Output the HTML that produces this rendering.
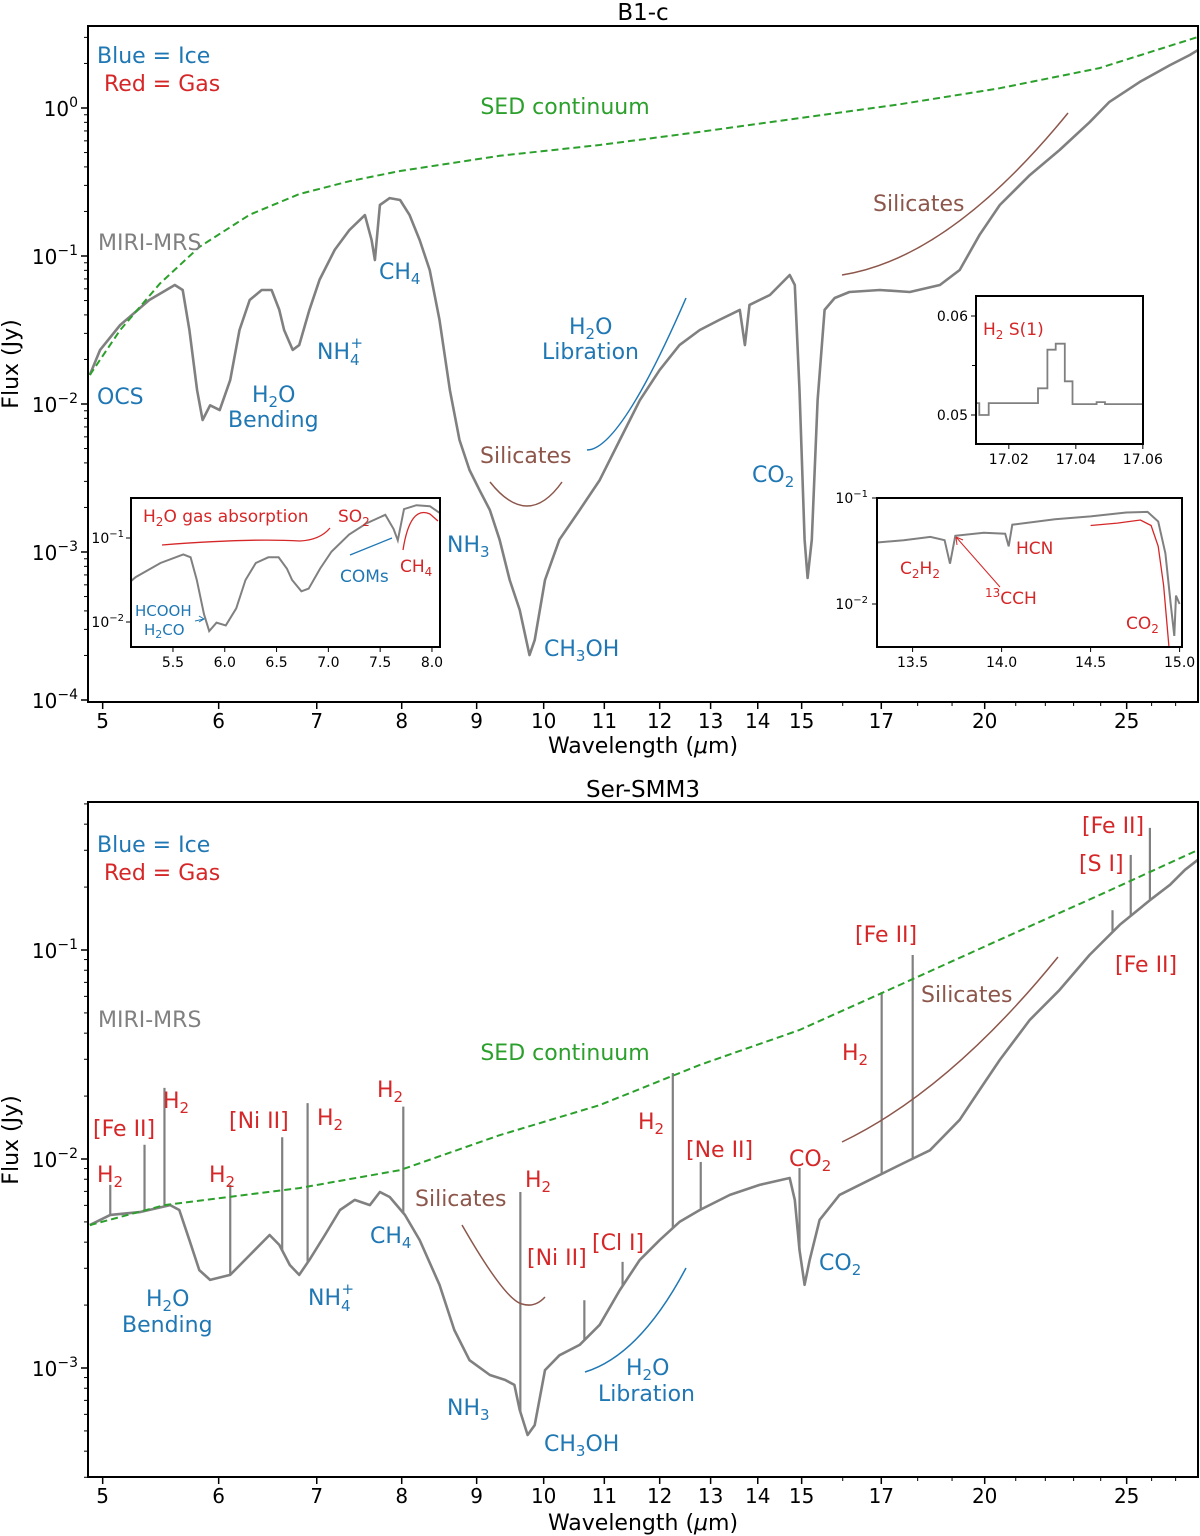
<!DOCTYPE html>
<html><head><meta charset="utf-8">
<style>
html,body{margin:0;padding:0;background:#fff;}
svg{display:block;font-family:"DejaVu Sans","Liberation Sans",sans-serif;}
</style></head>
<body>
<svg id="fig" width="1200" height="1536" viewBox="0 0 1200 1536" xmlns="http://www.w3.org/2000/svg">
<g id="layer"></g>

<text x="643" y="20" font-size="23" text-anchor="middle">B1-c</text>
<text x="643" y="797" font-size="23" text-anchor="middle">Ser-SMM3</text>
<text x="643" y="753" font-size="22" text-anchor="middle">Wavelength (<tspan font-style="italic">μ</tspan>m)</text>
<text x="643" y="1530" font-size="22" text-anchor="middle">Wavelength (<tspan font-style="italic">μ</tspan>m)</text>
<text transform="translate(18,364) rotate(-90)" font-size="22" text-anchor="middle">Flux (Jy)</text>
<text transform="translate(18,1140) rotate(-90)" font-size="22" text-anchor="middle">Flux (Jy)</text>

<g font-size="22">
<text x="97" y="63" fill="#1f77b4">Blue = Ice</text>
<text x="104" y="91" fill="#d62728">Red = Gas</text>
<text x="565" y="114" fill="#2ca02c" text-anchor="middle">SED continuum</text>
<text x="98" y="250" fill="#808080">MIRI-MRS</text>
<text x="379" y="279" fill="#1f77b4">CH<tspan font-size="15" dy="5">4</tspan></text>
<text x="317" y="359" fill="#1f77b4">NH<tspan font-size="15" dy="6">4</tspan><tspan font-size="15" dx="-9" dy="-17">+</tspan></text>
<text x="97" y="404" fill="#1f77b4">OCS</text>
<text x="252" y="402" fill="#1f77b4">H<tspan font-size="15" dy="5">2</tspan><tspan dy="-5">O</tspan></text>
<text x="228" y="427" fill="#1f77b4">Bending</text>
<text x="569" y="334" fill="#1f77b4">H<tspan font-size="15" dy="5">2</tspan><tspan dy="-5">O</tspan></text>
<text x="542" y="359" fill="#1f77b4">Libration</text>
<text x="480" y="463" fill="#8c564b">Silicates</text>
<text x="873" y="211" fill="#8c564b">Silicates</text>
<text x="752" y="482" fill="#1f77b4">CO<tspan font-size="15" dy="5">2</tspan></text>
<text x="447" y="552" fill="#1f77b4">NH<tspan font-size="15" dy="5">3</tspan></text>
<text x="544" y="656" fill="#1f77b4">CH<tspan font-size="15" dy="5">3</tspan><tspan dy="-5">OH</tspan></text>
</g>
<g fill="none" stroke-width="1.5">
<path d="M490,482 Q528,530 562,482" stroke="#8c564b"/>
<path d="M587,450 Q620,450 686,298" stroke="#1f77b4"/>
<path d="M842,275 Q950,258 1068,113" stroke="#8c564b"/>
<path d="M462,1225 Q505,1300 522,1304 Q535,1308 545,1297" stroke="#8c564b"/>
<path d="M585,1372 Q640,1355 686,1268" stroke="#1f77b4"/>
<path d="M842,1142 Q950,1090 1058,957" stroke="#8c564b"/>
</g>

<g font-size="22">
<text x="97" y="852" fill="#1f77b4">Blue = Ice</text>
<text x="104" y="880" fill="#d62728">Red = Gas</text>
<text x="98" y="1027" fill="#808080">MIRI-MRS</text>
<text x="565" y="1060" fill="#2ca02c" text-anchor="middle">SED continuum</text>
<g fill="#d62728">
<text x="97" y="1182">H<tspan font-size="15" dy="5">2</tspan></text>
<text x="93" y="1136">[Fe II]</text>
<text x="163" y="1108">H<tspan font-size="15" dy="5">2</tspan></text>
<text x="209" y="1182">H<tspan font-size="15" dy="5">2</tspan></text>
<text x="229" y="1128">[Ni II]</text>
<text x="317" y="1125">H<tspan font-size="15" dy="5">2</tspan></text>
<text x="377" y="1097">H<tspan font-size="15" dy="5">2</tspan></text>
<text x="525" y="1187">H<tspan font-size="15" dy="5">2</tspan></text>
<text x="527" y="1265">[Ni II]</text>
<text x="592" y="1250">[Cl I]</text>
<text x="638" y="1129">H<tspan font-size="15" dy="5">2</tspan></text>
<text x="686" y="1157">[Ne II]</text>
<text x="789" y="1166">CO<tspan font-size="15" dy="5">2</tspan></text>
<text x="842" y="1060">H<tspan font-size="15" dy="5">2</tspan></text>
<text x="855" y="942">[Fe II]</text>
<text x="1082" y="833">[Fe II]</text>
<text x="1079" y="871">[S I]</text>
<text x="1115" y="972">[Fe II]</text>
</g>
<text x="415" y="1206" fill="#8c564b">Silicates</text>
<text x="921" y="1002" fill="#8c564b">Silicates</text>
<g fill="#1f77b4">
<text x="819" y="1270">CO<tspan font-size="15" dy="5">2</tspan></text>
<text x="626" y="1375">H<tspan font-size="15" dy="5">2</tspan><tspan dy="-5">O</tspan></text>
<text x="598" y="1401">Libration</text>
<text x="447" y="1415">NH<tspan font-size="15" dy="5">3</tspan></text>
<text x="544" y="1451">CH<tspan font-size="15" dy="5">3</tspan><tspan dy="-5">OH</tspan></text>
<text x="370" y="1243">CH<tspan font-size="15" dy="5">4</tspan></text>
<text x="308" y="1305">NH<tspan font-size="15" dy="6">4</tspan><tspan font-size="15" dx="-9" dy="-17">+</tspan></text>
<text x="146" y="1306">H<tspan font-size="15" dy="5">2</tspan><tspan dy="-5">O</tspan></text>
<text x="122" y="1332">Bending</text>
</g>
</g>
</svg>
<script>
const topWave=[4.90,4.98,5.14,5.38,5.60,5.67,5.73,5.80,5.85,5.92,6.01,6.11,6.20,6.30,6.42,6.52,6.60,6.65,6.74,6.81,6.92,7.03,7.20,7.37,7.55,7.63,7.67,7.73,7.85,7.98,8.10,8.23,8.36,8.49,8.63,8.76,8.90,9.04,9.19,9.33,9.48,9.63,9.78,9.86,10.02,10.25,10.58,10.92,11.27,11.63,12.00,12.38,12.78,13.18,13.61,13.72,13.82,14.27,14.72,14.84,14.95,15.07,15.14,15.24,15.38,15.55,15.80,16.17,16.96,17.78,18.64,19.23,19.84,20.48,21.47,22.50,23.58,24.33,25.52,26.76,27.61,27.96];
const topFlux=[0.0157,0.0232,0.0342,0.0504,0.0637,0.0589,0.0316,0.0124,0.0078,0.0098,0.0091,0.0145,0.0316,0.0504,0.0589,0.0589,0.0432,0.0316,0.0232,0.0250,0.0432,0.0689,0.110,0.150,0.189,0.128,0.094,0.221,0.246,0.239,0.189,0.128,0.0804,0.0370,0.0124,0.00571,0.00358,0.00262,0.00192,0.00121,0.000647,0.000406,0.000201,0.000254,0.000647,0.00121,0.00192,0.00306,0.00571,0.0106,0.0170,0.0250,0.0316,0.0370,0.0432,0.0250,0.0467,0.0545,0.0744,0.0637,0.0124,0.00121,0.000667,0.00121,0.0106,0.0432,0.0520,0.0571,0.0589,0.0571,0.0637,0.0804,0.139,0.221,0.352,0.520,0.800,1.10,1.50,1.95,2.28,2.46];
const topSedWave=[4.90,5.14,5.47,5.82,6.30,6.81,7.37,7.98,9.33,10.92,12.78,14.95,17.50,20.48,23.95,27.96];
const topSedFlux=[0.0157,0.0316,0.0650,0.115,0.190,0.262,0.320,0.375,0.475,0.562,0.689,0.855,1.06,1.36,1.86,3.02];

const botWave=[4.90,5.06,5.30,5.56,5.64,5.73,5.82,5.92,6.11,6.30,6.50,6.60,6.71,6.81,6.92,7.09,7.26,7.43,7.61,7.73,7.85,8.04,8.23,8.49,8.69,8.90,9.19,9.41,9.55,9.63,9.75,9.86,10.02,10.25,10.58,10.92,11.27,11.63,12.00,12.38,12.78,13.40,14.04,14.72,14.84,14.95,15.07,15.19,15.43,15.92,16.69,17.50,18.35,19.23,19.84,20.48,21.47,22.50,23.58,24.73,25.93,26.76,27.40,27.96];
const botFlux=[0.00483,0.00540,0.00557,0.00602,0.00570,0.00409,0.00294,0.00264,0.00279,0.00347,0.00433,0.00388,0.00311,0.00279,0.00329,0.00433,0.00570,0.00637,0.00602,0.00695,0.00658,0.00540,0.00409,0.00250,0.00152,0.00109,0.000926,0.000877,0.000830,0.000630,0.000478,0.000533,0.000977,0.00115,0.00129,0.00161,0.00236,0.00329,0.00409,0.00500,0.00570,0.00673,0.00752,0.00811,0.00637,0.00367,0.00250,0.00329,0.00511,0.00673,0.00794,0.00936,0.0110,0.0154,0.0214,0.0298,0.0463,0.0644,0.0946,0.132,0.173,0.205,0.242,0.270];
const lineWave=[5.06,5.34,5.51,6.11,6.63,6.90,8.02,9.64,10.66,11.32,12.25,12.80,14.95,17.01,17.86,24.45,25.16,25.93];
const linePeak=[0.00752,0.0117,0.0219,0.00752,0.0127,0.0185,0.0178,0.00695,0.00211,0.00322,0.0258,0.00968,0.00906,0.0630,0.0946,0.155,0.285,0.384];
const botSedWave=[4.90,5.51,6.81,7.98,9.33,10.92,12.78,14.95,17.01,20.48,23.95,27.96];
const botSedFlux=[0.00483,0.00602,0.00726,0.00885,0.0130,0.0181,0.0282,0.0414,0.0622,0.112,0.183,0.301];

const co2Wave=[13.30,13.45,13.60,13.68,13.71,13.74,13.90,14.02,14.04,14.06,14.30,14.50,14.70,14.82,14.88,14.92,14.95,14.97,14.98,15.00];
const co2Flux=[0.038,0.040,0.043,0.040,0.024,0.044,0.047,0.046,0.035,0.056,0.063,0.067,0.073,0.074,0.060,0.030,0.010,0.005,0.012,0.010];
const co2ModelWave=[14.50,14.65,14.78,14.84,14.88,14.91,14.94];
const co2ModelFlux=[0.055,0.058,0.062,0.055,0.035,0.015,0.004];
const h2Edges=[17.0100,17.0112,17.0140,17.0287,17.0315,17.0340,17.0367,17.0390,17.0462,17.0487,17.0600];
const h2Vals=[0.0512,0.0500,0.0512,0.0527,0.0566,0.0572,0.0534,0.0511,0.0513,0.0511];
const xTickVals=[5,6,7,8,9,10,11,12,13,14,15,17,20,25];
const xMinorVals=[16,18,19,21,22,23,24,26,27];
const leftInsetTicks=[5.5,6.0,6.5,7.0,7.5,8.0];
const rightInsetTicks=[13.5,14.0,14.5,15.0];
const h2Ticks=[17.02,17.04,17.06];

const NS="http://www.w3.org/2000/svg";
const layer=document.getElementById('layer');
function mk(tag,attrs,parent){const e=document.createElementNS(NS,tag);for(const k in attrs)e.setAttribute(k,attrs[k]);(parent||layer).appendChild(e);return e;}
const L=Math.log10;
const X0=L(4.886);
function xMain(w){return 88+(L(w)-X0)*1465;}
function yTop(f){return 108-L(f)*148;}
function yBot(f){return 950-(L(f)+1)*209;}
function poly(ws,fs,xf,yf){return ws.map((w,i)=>xf(w).toFixed(1)+','+yf(fs[i]).toFixed(1)).join(' ');}
function interp(ws,fs,w){for(let i=0;i<ws.length-1;i++){if(w>=ws[i]&&w<=ws[i+1]){const t=(L(w)-L(ws[i]))/(L(ws[i+1])-L(ws[i]));return Math.pow(10,L(fs[i])+t*(L(fs[i+1])-L(fs[i])));}}return fs[fs.length-1];}

function panel(top,bottom,yf,decMin,decMax,name){
  const g=mk('g',{});
  
  
  const cp=mk('clipPath',{id:'clip-'+name},g);
  mk('rect',{x:88,y:top,width:1110,height:bottom-top},cp);
  xTickVals.forEach(v=>{const x=xMain(v);
    const t=mk('line',{x1:x,x2:x,y1:bottom,y2:bottom+7,stroke:'#000','stroke-width':1.5},g);
    
    
    const tx=mk('text',{x:x,y:bottom+26,'font-size':20,'text-anchor':'middle'},g);tx.textContent=v;
    
    
  });
  xMinorVals.forEach(v=>{const x=xMain(v);mk('line',{x1:x,x2:x,y1:bottom,y2:bottom+4,stroke:'#000','stroke-width':1},g);});
  for(let d=decMin;d<=decMax;d++){
    for(let m=1;m<10;m++){const f=m*Math.pow(10,d);const y=yf(f);if(y<top||y>bottom+1)continue;
      mk('line',{x1:88,x2:88-(m==1?7:4),y1:y,y2:y,stroke:'#000','stroke-width':m==1?1.5:1},g);
      if(m==1){const tx=mk('text',{x:78,y:y+8,'font-size':20,'text-anchor':'end'},g);
        
        
        tx.innerHTML='10<tspan font-size="14" dy="-9">'+(d<0?'−'+(-d):d)+'</tspan>';}
    }
  }
  return g;
}
const gt=panel(26,702,yTop,-4,0,'top');
const topSed=mk('polyline',{points:poly(topSedWave,topSedFlux,xMain,yTop),fill:'none',stroke:'#2ca02c','stroke-width':2,'stroke-dasharray':'7,4','clip-path':'url(#clip-top)'});


const topSpec=mk('polyline',{points:poly(topWave,topFlux,xMain,yTop),fill:'none',stroke:'#808080','stroke-width':2.6,'stroke-linejoin':'round','clip-path':'url(#clip-top)'});


layer.appendChild(topSed);
mk('rect',{x:88,y:26,width:1110,height:676,fill:'none',stroke:'#000','stroke-width':2});

const gb=panel(802,1477,yBot,-4,0,'bot');
const botSpec=mk('polyline',{points:poly(botWave,botFlux,xMain,yBot),fill:'none',stroke:'#808080','stroke-width':2.6,'stroke-linejoin':'round','clip-path':'url(#clip-bot)'});


lineWave.forEach((w,i)=>{const x=xMain(w);const b=interp(botWave,botFlux,w);
  const l=mk('line',{x1:x,x2:x,y1:yBot(b),y2:yBot(linePeak[i]),stroke:'#808080','stroke-width':2.2});
  
  
});
const botSed=mk('polyline',{points:poly(botSedWave,botSedFlux,xMain,yBot),fill:'none',stroke:'#2ca02c','stroke-width':2,'stroke-dasharray':'7,4','clip-path':'url(#clip-bot)'});


mk('rect',{x:88,y:802,width:1110,height:675,fill:'none',stroke:'#000','stroke-width':2});

function inset(name,x0,y0,w,h){const g=mk('g',{});
  mk('rect',{x:x0,y:y0,width:w,height:h,fill:'#fff'},g);
  const cp=mk('clipPath',{id:'clip-'+name},g);mk('rect',{x:x0,y:y0,width:w,height:h},cp);return g;}
const gl=inset('inset-left',131,498,309,149);
function xL(w){return 131+(w-5.095)*103.6;}
function yL(f){return 538-(L(f)+1)*84;}
const nL=topWave.filter(w=>w<8.2).length;
mk('polyline',{points:poly(topWave.slice(0,nL),topFlux.slice(0,nL),xL,yL),fill:'none',stroke:'#808080','stroke-width':2,'clip-path':'url(#clip-inset-left)'},gl);
mk('path',{d:'M162,545 Q250,538 300,541 Q320,540 330,528',fill:'none',stroke:'#d62728','stroke-width':1.3},gl);
mk('path',{d:'M350,555 L392,538',fill:'none',stroke:'#1f77b4','stroke-width':1.3},gl);
mk('path',{d:'M403,550 Q410,505 430,514 L438,521',fill:'none',stroke:'#d62728','stroke-width':1.3},gl);
mk('path',{d:'M195,621 L204,619 M199,616 L204,619 L199,622',fill:'none',stroke:'#1f77b4','stroke-width':1},gl);
gl.insertAdjacentHTML('beforeend','<text x="143" y="522" font-size="17" fill="#d62728">H<tspan font-size="12" dy="4">2</tspan><tspan dy="-4">O gas absorption</tspan></text><text x="338" y="522" font-size="17" fill="#d62728">SO<tspan font-size="12" dy="4">2</tspan></text><text x="340" y="582" font-size="17" fill="#1f77b4">COMs</text><text x="400" y="572" font-size="17" fill="#d62728">CH<tspan font-size="12" dy="4">4</tspan></text><text x="135" y="616" font-size="15" fill="#1f77b4">HCOOH</text><text x="144" y="635" font-size="15" fill="#1f77b4">H<tspan font-size="11" dy="3">2</tspan><tspan dy="-3">CO</tspan></text>');
leftInsetTicks.forEach(v=>{const x=xL(v);mk('line',{x1:x,x2:x,y1:647,y2:652,stroke:'#000'},gl);const t=mk('text',{x:x,y:667,'font-size':14,'text-anchor':'middle'},gl);t.textContent=v.toFixed(1);});
[[-1,538],[-2,622]].forEach(([d,y])=>{mk('line',{x1:131,x2:126,y1:y,y2:y,stroke:'#000'},gl);const t=mk('text',{x:124,y:y+5,'font-size':14,'text-anchor':'end'},gl);t.innerHTML='10<tspan font-size="10" dy="-6">−'+(-d)+'</tspan>';});
mk('rect',{x:131,y:498,width:309,height:149,fill:'none',stroke:'#000','stroke-width':2},gl);

const gr=inset('inset-co2',877,498,305,149);
function xR(w){return 877+(w-13.30)*178;}
function yR(f){return 498-(L(f)+1)*106;}
mk('polyline',{points:poly(co2Wave,co2Flux,xR,yR),fill:'none',stroke:'#808080','stroke-width':2,'clip-path':'url(#clip-inset-co2)'},gr);
mk('polyline',{points:poly(co2ModelWave,co2ModelFlux,xR,yR),fill:'none',stroke:'#d62728','stroke-width':1.3,'clip-path':'url(#clip-inset-co2)'},gr);
mk('path',{d:'M1000,587 L956,537 M956,537 L957,545 M956,537 L963,540',fill:'none',stroke:'#d62728','stroke-width':1},gr);
gr.insertAdjacentHTML('beforeend','<text x="900" y="574" font-size="17" fill="#d62728">C<tspan font-size="12" dy="4">2</tspan><tspan dy="-4">H</tspan><tspan font-size="12" dy="4">2</tspan></text><text x="1016" y="554" font-size="17" fill="#d62728">HCN</text><text x="985" y="604" font-size="17" fill="#d62728"><tspan font-size="12" dy="-7">13</tspan><tspan dy="7">CCH</tspan></text><text x="1126" y="629" font-size="17" fill="#d62728">CO<tspan font-size="12" dy="4">2</tspan></text>');
rightInsetTicks.forEach(v=>{const x=xR(v);mk('line',{x1:x,x2:x,y1:647,y2:652,stroke:'#000'},gr);const t=mk('text',{x:x,y:667,'font-size':14,'text-anchor':'middle'},gr);t.textContent=v.toFixed(1);});
[[-1,498],[-2,604]].forEach(([d,y])=>{mk('line',{x1:877,x2:872,y1:y,y2:y,stroke:'#000'},gr);const t=mk('text',{x:868,y:y+5,'font-size':14,'text-anchor':'end'},gr);t.innerHTML='10<tspan font-size="10" dy="-6">−'+(-d)+'</tspan>';});
mk('rect',{x:877,y:498,width:305,height:149,fill:'none',stroke:'#000','stroke-width':2},gr);

const gh=inset('inset-h2',976,296,167,148);
function xH(w){return 976+(w-17.0102)*3350;}
function yH(f){return 415-(f-0.05)*9900;}
let hp='';h2Vals.forEach((v,i)=>{hp+=(i?' L':'M')+xH(h2Edges[i]).toFixed(1)+','+yH(v).toFixed(1)+' L'+xH(h2Edges[i+1]).toFixed(1)+','+yH(v).toFixed(1);});
const h2p=mk('path',{d:hp,fill:'none',stroke:'#808080','stroke-width':1.8,'clip-path':'url(#clip-inset-h2)'},gh);


gh.insertAdjacentHTML('beforeend','<text x="983" y="335" font-size="17" fill="#d62728">H<tspan font-size="12" dy="4">2</tspan><tspan dy="-4"> S(1)</tspan></text>');
h2Ticks.forEach(v=>{const x=xH(v);mk('line',{x1:x,x2:x,y1:444,y2:449,stroke:'#000'},gh);const t=mk('text',{x:x,y:464,'font-size':14,'text-anchor':'middle'},gh);t.textContent=v.toFixed(2);});
[0.05,0.055,0.06].forEach(v=>{const y=yH(v);mk('line',{x1:976,x2:v==0.055?972:971,y1:y,y2:y,stroke:'#000'},gh);if(v!=0.055){const t=mk('text',{x:968,y:y+5,'font-size':14,'text-anchor':'end'},gh);t.textContent=v.toFixed(2);}});
mk('rect',{x:976,y:296,width:167,height:148,fill:'none',stroke:'#000','stroke-width':2},gh);
</script>
</body></html>
